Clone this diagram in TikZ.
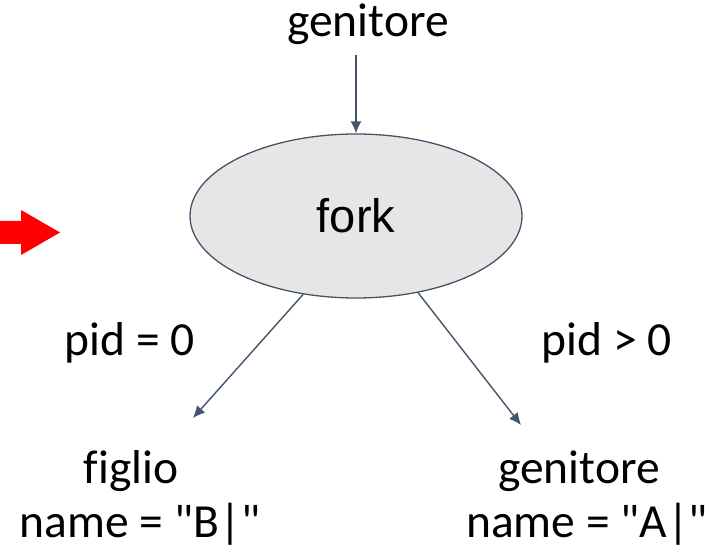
\documentclass[tikz,border=0pt]{standalone}
\usepackage{fontspec}
\setmainfont{Carlito}[Ligatures={NoCommon,TeXOff}]
\newfontfamily\forkfont{Liberation Sans}
\usetikzlibrary{shapes.geometric,arrows.meta}
\definecolor{linec}{HTML}{44546A}
\definecolor{ellfill}{HTML}{E6E6E6}
\newcommand{\dq}{\char"22\relax}
\tikzset{
  lbl/.style={anchor=base,inner sep=0pt,font=\fontsize{47.5}{56}\selectfont},
  conn/.style={draw=linec,line width=1.4pt,-{Latex[length=12pt,width=11pt]}},
}
\begin{document}
\begin{tikzpicture}[x=1pt,y=-1pt]
\useasboundingbox (0,0) rectangle (710,556);
% red arrow
\fill[red] (0,221) -- (21,221) -- (21,210) -- (60,232.5) -- (21,255) -- (21,244) -- (0,244) -- cycle;
% nodes
\node[lbl] (top) at (368,37) {genitore};
\node[ellipse,draw=linec,fill=ellfill,line width=1.3pt,minimum width=332pt,minimum height=164pt,inner sep=0pt,font=\forkfont\fontsize{47}{56}\selectfont] (fork) at (356,216) {fork};
\node[lbl] (pid0) at (130,355) {pid = 0};
\node[lbl] (pidg) at (607,355) {pid > 0};
\node[lbl] (figlio) at (131,483) {figlio};
\node[lbl] (nameB) at (140,537) {name = \dq B|\dq};
\node[lbl] (genB) at (579,483) {genitore};
\node[lbl] (nameA) at (587,537) {name = \dq A|\dq};
\coordinate (topstart) at (356,55);
\coordinate (endL) at (193,418);
\coordinate (endR) at (521,425);
% connectors
\draw[conn] (topstart) -- (fork.north);
\draw[conn] (fork.236.8) -- (endL);
\draw[conn] (fork.309.2) -- (endR);
\end{tikzpicture}
\end{document}
